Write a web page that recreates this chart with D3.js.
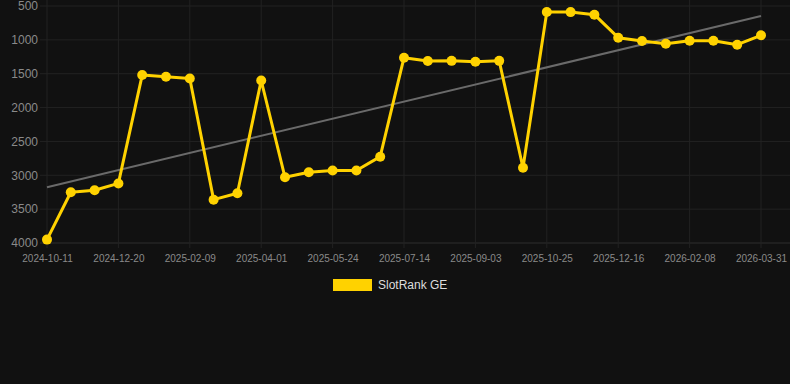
<!DOCTYPE html>
<html>
<head>
<meta charset="utf-8">
<script src="https://cdn.jsdelivr.net/npm/d3@7"></script>
<style>
  body { margin: 0; background: #111111; }
  svg { display: block; font-family: "Liberation Sans", Arial, sans-serif; }
</style>
</head>
<body>
<div id="chart"></div>
<script>
// dates on the category axis (only every 3rd one is labelled)
var dates = ["2024-10-11","2024-11-04","2024-11-27","2024-12-20","2025-01-06","2025-01-23","2025-02-09","2025-02-26","2025-03-15","2025-04-01",
             "2025-04-18","2025-05-07","2025-05-24","2025-06-10","2025-06-27","2025-07-14","2025-07-31","2025-08-17","2025-09-03","2025-09-20",
             "2025-10-08","2025-10-25","2025-11-11","2025-11-29","2025-12-16","2026-01-03","2026-01-21","2026-02-08","2026-02-25","2026-03-14","2026-03-31"];
var ranks = [3950,3250,3220,3120,1520,1545,1570,3360,3265,1600,
             3030,2955,2930,2930,2725,1263,1312,1310,1322,1310,
             2888,589,590,628,968,1017,1057,1012,1012,1071,933];
var yTicks = [500,1000,1500,2000,2500,3000,3500,4000];
var seriesName = "SlotRank GE";

var W = 790, H = 384;
var plotLeft = 47, plotRight = 761, plotTop = 6, plotBottom = 243;

var svg = d3.select("#chart").append("svg")
    .attr("width", W).attr("height", H);

svg.append("rect").attr("width", W).attr("height", H).style("fill", "#111111");

var x = d3.scalePoint().domain(dates).range([plotLeft, plotRight]);
var y = d3.scaleLinear().domain([500, 4000]).range([plotTop, plotBottom]);

var tickDates = dates.filter(function(d, i){ return i % 3 === 0; });

// grid
svg.append("g").selectAll("line").data(yTicks).enter().append("line")
    .attr("x1", 40).attr("x2", 790)
    .attr("y1", function(d){ return y(d); }).attr("y2", function(d){ return y(d); })
    .style("stroke", function(d){ return d === 4000 ? "#2e2e2e" : "#222222"; })
    .style("stroke-width", 1);

svg.append("g").selectAll("line").data(tickDates).enter().append("line")
    .attr("x1", function(d){ return x(d); }).attr("x2", function(d){ return x(d); })
    .attr("y1", 0).attr("y2", plotBottom + 5)
    .style("stroke", "#222222")
    .style("stroke-width", 1);

// axes
var yAxis = svg.append("g")
    .attr("transform", "translate(" + 38 + ",0)")
    .call(d3.axisLeft(y).tickValues(yTicks).tickSize(0).tickPadding(0).tickFormat(d3.format("d")));
yAxis.select(".domain").remove();
yAxis.selectAll("text")
    .style("fill", "#8a8a8a").style("font-size", "12px")
    .style("font-family", "Liberation Sans, Arial, sans-serif");

var xAxis = svg.append("g")
    .attr("transform", "translate(0," + plotBottom + ")")
    .call(d3.axisBottom(x).tickValues(tickDates).tickSize(0).tickPadding(12));
xAxis.select(".domain").remove();
xAxis.selectAll("text")
    .style("fill", "#8a8a8a").style("font-size", "10px")
    .style("font-family", "Liberation Sans, Arial, sans-serif");

// trend (least squares over the point index)
var n = ranks.length;
var mx = d3.mean(ranks, function(d, i){ return i; });
var my = d3.mean(ranks);
var sxy = d3.sum(ranks, function(d, i){ return (i - mx) * (d - my); });
var sxx = d3.sum(ranks, function(d, i){ return (i - mx) * (i - mx); });
var slope = sxy / sxx, icpt = my - slope * mx;

svg.append("line")
    .attr("x1", x(dates[0])).attr("y1", y(icpt))
    .attr("x2", x(dates[n - 1])).attr("y2", y(icpt + slope * (n - 1)))
    .style("stroke", "#6a6a6a").style("stroke-width", 2);

// series
var line = d3.line()
    .x(function(d, i){ return x(dates[i]); })
    .y(function(d){ return y(d); });

svg.append("path").datum(ranks)
    .attr("d", line)
    .style("fill", "none").style("stroke", "#ffd200").style("stroke-width", 3)
    .style("stroke-linejoin", "round");

svg.append("g").selectAll("circle").data(ranks).enter().append("circle")
    .attr("cx", function(d, i){ return x(dates[i]); })
    .attr("cy", function(d){ return y(d); })
    .attr("r", 5)
    .style("fill", "#ffd200");

// legend
var legend = svg.append("g").attr("transform", "translate(333,279)");
legend.append("rect").attr("width", 39).attr("height", 12).style("fill", "#ffd200");
legend.append("text").attr("x", 45).attr("y", 10)
    .text(seriesName)
    .style("fill", "#dddddd").style("font-size", "12px");
</script>
</body>
</html>
